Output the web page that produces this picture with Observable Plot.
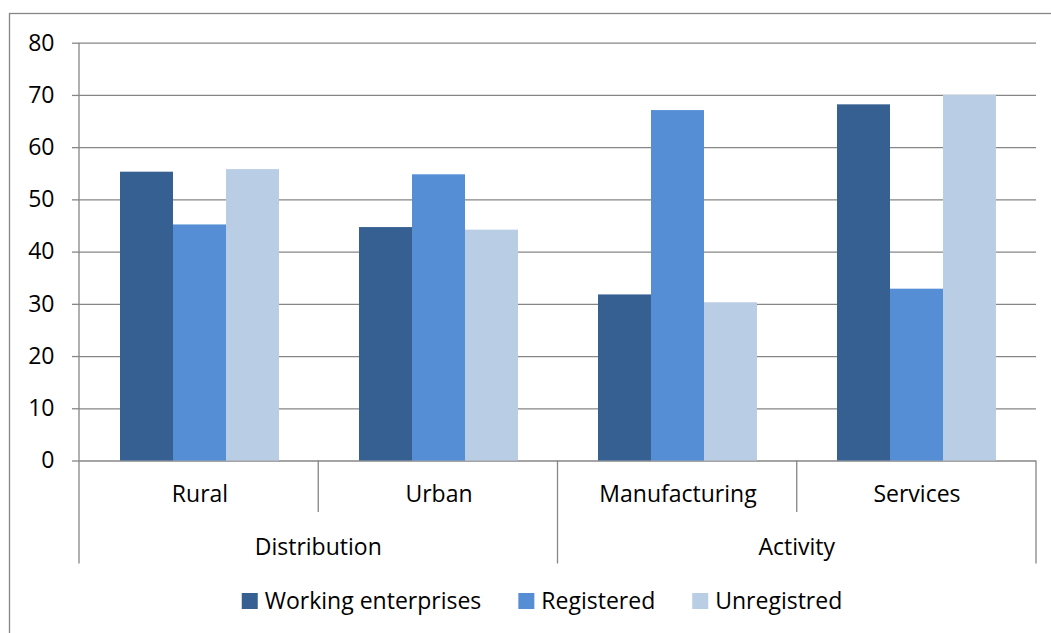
<!DOCTYPE html>
<html>
<head>
<meta charset="utf-8">
<script src="https://cdn.jsdelivr.net/npm/d3@7"></script>
<script src="https://cdn.jsdelivr.net/npm/@observablehq/plot@0.6"></script>
<style>
  html, body { margin: 0; padding: 0; background: #fff; }
  svg { display: block; }
  svg [aria-label^="y-axis"] line,
  svg g[aria-label="y-axis tick"],
  svg g[aria-label="y-axis tick"] path { stroke: #868686; stroke-width: 1.3px; }
</style>
</head>
<body>
<div id="chart"></div>
<script>
// ---- data ----
const categories = ["Rural", "Urban", "Manufacturing", "Services"];
const groupOf = ["Distribution", "Distribution", "Activity", "Activity"];
const groups = ["Distribution", "Activity"];
const seriesNames = ["Working enterprises", "Registered", "Unregistred"];
const workingEnterprises = [55.3, 44.7, 31.8, 68.2];
const registered = [45.2, 54.8, 67.1, 32.9];
const unregistred = [55.8, 44.2, 30.3, 70.0];
const yTicks = [0, 10, 20, 30, 40, 50, 60, 70, 80];
const colors = ["#376092", "#558ED5", "#B9CDE5"];

const seriesValues = [workingEnterprises, registered, unregistred];
const rows = [];
categories.forEach((c, i) => {
  seriesNames.forEach((s, j) => rows.push({category: c, series: s, value: seriesValues[j][i]}));
});

const FONT = "'Open Sans', sans-serif";
const FS = 23;
const GRID = "#868686";

const plot = Plot.plot({
  width: 1051,
  height: 633,
  marginLeft: 79,
  marginRight: 15,
  marginTop: 42.7,
  marginBottom: 172.5,
  style: {fontFamily: FONT, fontSize: FS + "px", background: "transparent", color: "#000"},
  fx: {domain: categories, padding: 0, axis: "bottom", tickSize: 0, tickPadding: 25, label: null},
  x: {domain: seriesNames, paddingInner: 0, paddingOuter: 0.75, axis: null},
  y: {domain: [0, 80], ticks: yTicks, tickSize: 8, tickPadding: 18, label: null, tickFormat: d => d},
  color: {domain: seriesNames, range: colors},
  marks: [
    Plot.ruleY(yTicks, {stroke: GRID, strokeWidth: 1.3}),
    Plot.barY(rows, {fx: "category", x: "series", y: "value", fill: "series", inset: 0})
  ]
});

document.getElementById("chart").appendChild(plot);

// ---- structural overlay from Plot's scales ----
const svg = d3.select(plot);
const fxS = plot.scale("fx");
const yS = plot.scale("y");
const fx = d3.scaleBand().domain(fxS.domain).range(fxS.range).padding(0);
const y = d3.scaleLinear().domain(yS.domain).range(yS.range);
const y0 = y(0);

const over = svg.append("g").attr("font-family", FONT).attr("font-size", FS);

// outer chart border
over.append("rect")
  .attr("x", 9.5).attr("y", 13.5).attr("width", 1200).attr("height", 1000)
  .attr("fill", "none").attr("stroke", GRID).attr("stroke-width", 1.3);

// y axis line
over.append("line")
  .attr("x1", fx.range()[0]).attr("x2", fx.range()[0])
  .attr("y1", y(80)).attr("y2", y0)
  .attr("stroke", GRID).attr("stroke-width", 1.3);

// category / group separators below the axis
const bounds = categories.map((c, i) => ({x: fx(c), long: i === 0 || groupOf[i] !== groupOf[i - 1]}));
bounds.push({x: fx.range()[1], long: true});
bounds.forEach(b => {
  over.append("line")
    .attr("x1", b.x).attr("x2", b.x)
    .attr("y1", y0).attr("y2", y0 + (b.long ? 103 : 51.5))
    .attr("stroke", GRID).attr("stroke-width", 1.3);
});

// group labels
groups.forEach(g => {
  const members = categories.filter((c, i) => groupOf[i] === g);
  const x0 = fx(members[0]);
  const x1 = fx(members[members.length - 1]) + fx.bandwidth();
  over.append("text")
    .attr("x", (x0 + x1) / 2).attr("y", 555)
    .attr("text-anchor", "middle").attr("fill", "#000")
    .text(g);
});

// legend
const color = plot.scale("color");
const leg = over.append("g").attr("text-anchor", "start");
const items = [];
color.domain.forEach((name, i) => {
  const it = leg.append("g");
  it.append("rect").attr("x", 0).attr("y", -15.5).attr("width", 16).attr("height", 16).attr("fill", color.range[i]);
  const t = it.append("text").attr("x", 23).attr("y", 0).attr("fill", "#000").attr("text-anchor", "start").text(name);
  const w = 23 + t.node().getComputedTextLength();
  items.push({it, w});
});
const gap = 37;
const total = d3.sum(items, d => d.w) + gap * (items.length - 1);
let start = 542 - total / 2;
items.forEach(d => { d.it.attr("transform", `translate(${start},608.5)`); start += d.w + gap; });
</script>
</body>
</html>
